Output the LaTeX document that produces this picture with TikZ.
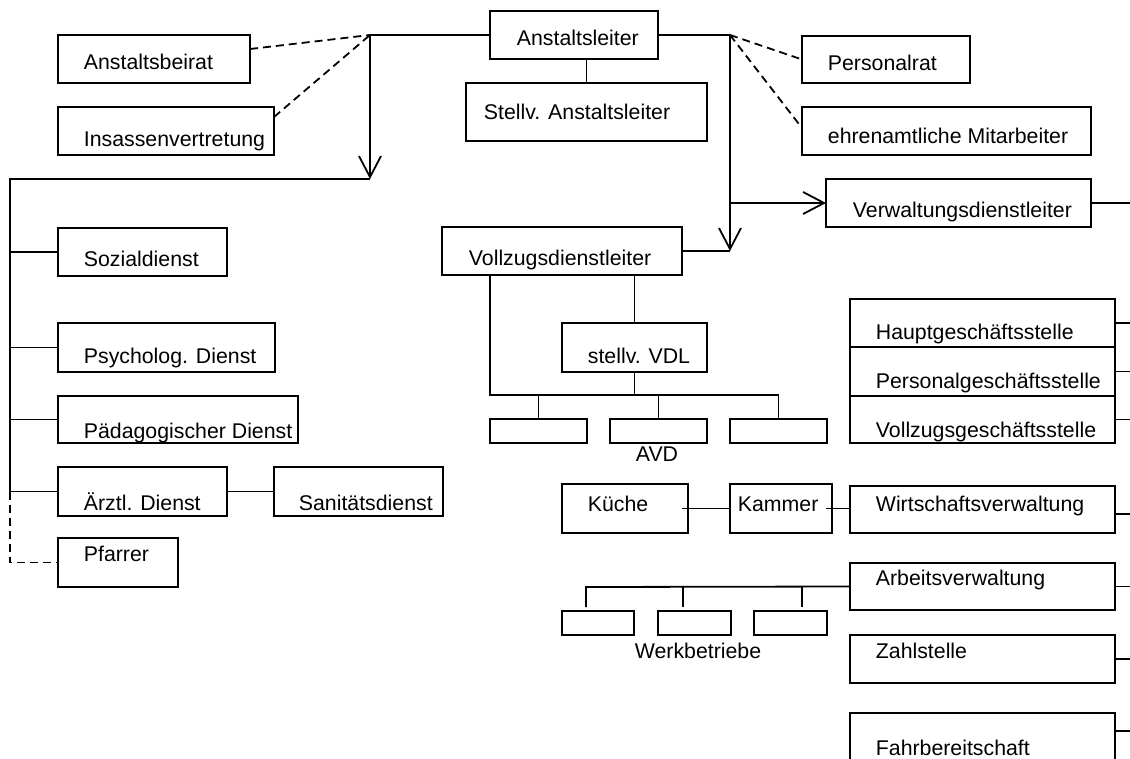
\documentclass[tikz,border=0pt]{standalone}
\usepackage{fontspec}
\setmainfont{Liberation Sans}
\usetikzlibrary{arrows.meta}
\newcommand\mybox[5]{\node[box, minimum width={#4-#2}, minimum height={#5-#3}] (#1) at (#2,#3) {};}
\begin{document}
\begin{tikzpicture}[x=1pt,y=-1pt, line width=1.8pt,
  box/.style={draw, rectangle, inner sep=0pt, outer sep=0pt, anchor=north west},
  txt/.style={anchor=base west, inner sep=0pt, font=\fontsize{21.3}{25}\selectfont},
  ctxt/.style={anchor=base, inner sep=0pt, font=\fontsize{21.3}{25}\selectfont},
  dsh/.style={dash pattern=on 8pt off 5pt},
  arr/.style={-{Straight Barb[length=21pt,width=22pt,line width=1.8pt]}}]
\useasboundingbox (0,0) rectangle (1130,758);
\clip (0,0) rectangle (1130,758);
% boxes
\mybox{beirat}{58}{35}{250}{83}
\mybox{insassen}{58}{107}{274}{155}
\mybox{leiter}{490}{11}{658}{59}
\mybox{stellv}{466}{83}{707}{141}
\mybox{prat}{802}{36}{970}{83}
\mybox{ehren}{802}{107}{1091}{155}
\mybox{vwdl}{826}{179}{1091}{227}
\mybox{sozial}{58}{228}{227}{276}
\mybox{psych}{58}{323}{275}{372}
\mybox{paed}{58}{396}{298}{443}
\mybox{arzt}{58}{467}{227}{516}
\mybox{sani}{274}{467}{443}{516}
\mybox{pfarrer}{58}{538}{178}{587}
\mybox{vdl}{442}{227}{682}{275}
\mybox{svdl}{562}{323}{707}{372}
\mybox{avdA}{490}{419}{587}{443}
\mybox{avdB}{610}{419}{707}{443}
\mybox{avdC}{730}{419}{827}{443}
\mybox{haupt}{850}{299}{1115}{347}
\mybox{pers}{850}{347}{1115}{396}
\mybox{vollz}{850}{396}{1115}{443}
\mybox{wirt}{850}{486}{1115}{533}
\mybox{arb}{850}{563}{1115}{610}
\mybox{zahl}{850}{635}{1115}{683}
\mybox{fahr}{850}{713}{1115}{780}
\mybox{kueche}{562}{484}{688}{533}
\mybox{kammer}{730}{484}{832}{533}
\mybox{wbA}{562}{611}{634}{635}
\mybox{wbB}{658}{611}{731}{635}
\mybox{wbC}{754}{611}{827}{635}
% texts
\node[txt] (tbeirat) at (83,69) {Anstaltsbeirat};
\node[txt] (tinsassen) at (83,146) {Insassenvertretung};
\node[txt] (tleiter) at (516,45) {Anstaltsleiter};
\node[txt] (tstellv) at (483,119) {Stellv. Anstaltsleiter};
\node[txt] (tprat) at (827,70) {Personalrat};
\node[txt] (tehren) at (827,143) {ehrenamtliche Mitarbeiter};
\node[txt] (tvwdl) at (852,217) {Verwaltungsdienstleiter};
\node[txt] (tsozial) at (83,266) {Sozialdienst};
\node[txt] (tpsych) at (83,363) {Psycholog. Dienst};
\node[txt] (tpaed) at (83,438) {Pädagogischer Dienst};
\node[txt] (tarzt) at (83,510) {Ärztl. Dienst};
\node[txt] (tsani) at (298,510) {Sanitätsdienst};
\node[txt] (tpfarrer) at (83,561) {Pfarrer};
\node[txt] (tvdl) at (468,265) {Vollzugsdienstleiter};
\node[txt] (tsvdl) at (587,363) {stellv. VDL};
\node[ctxt] (tavd) at (657,461) {AVD};
\node[txt] (thaupt) at (875,339) {Hauptgeschäftsstelle};
\node[txt] (tpers) at (875,388) {Personalgeschäftsstelle};
\node[txt] (tvollz) at (875,437) {Vollzugsgeschäftsstelle};
\node[txt] (twirt) at (875,511) {Wirtschaftsverwaltung};
\node[txt] (tarb) at (875,585) {Arbeitsverwaltung};
\node[txt] (tzahl) at (875,658) {Zahlstelle};
\node[txt] (tfahr) at (875,755) {Fahrbereitschaft};
\node[txt] (tkueche) at (587,511) {Küche};
\node[txt] (tkammer) at (737,511) {Kammer};
\node[ctxt] (twb) at (698,658) {Werkbetriebe};
% junction coordinates
\coordinate (jL) at (370,35);
\coordinate (jR) at (730,35);
\coordinate (cL) at (370,179);
\coordinate (vj) at (730,203);
\coordinate (L0) at (10,179);
\coordinate (Lb) at (10,562.5);
\coordinate (edge) at (1130,0);
\coordinate (bA) at (490,395);
\coordinate (wA) at (586,587);
\coordinate (wB) at (683,587);
\coordinate (wC) at (802,587);
% top connectors
\draw (jL) -- (leiter.west);
\draw (leiter.east) -- (jR);
\draw (stellv.north |- leiter.south) -- (stellv.north);
\draw[dsh] ([yshift=10pt]beirat.east) -- (jL);
\draw[dsh] ([yshift=14pt]insassen.east) -- (jL);
\draw[dsh] (jR) -- (prat.west);
\draw[dsh] (jR) -- ([yshift=3pt]ehren.west);
\draw[arr] (jL) -- (cL);
\draw (cL) -- (L0) -- (arzt.west -| L0);
\draw[dsh] (arzt.west -| L0) -- (Lb) -- (pfarrer.west);
\draw (sozial.west -| L0) -- (sozial.west);
\draw (psych.west -| L0) -- (psych.west);
\draw (paed.west -| L0) -- (paed.west);
\draw (arzt.west -| L0) -- (arzt.west);
\draw (arzt.east) -- (sani.west);
\draw[arr] (jR) -- (vdl.east -| jR);
\draw (vdl.east -| jR) -- (vdl.east);
\draw[arr] (vj) -- (vwdl.west);
% VDL tree
\draw (bA |- vdl.south) -- (bA) -- (avdC.north |- bA) -- (avdC.north);
\draw (svdl.north |- vdl.south) -- (svdl.north);
\draw (svdl.south) -- (svdl.south |- bA);
\draw (avdA.north |- bA) -- (avdA.north);
\draw (avdB.north |- bA) -- (avdB.north);
% Kueche / Kammer
\draw ([xshift=-6pt]kueche.east) -- (kammer.west);
\draw ([xshift=-6pt]kammer.east) -- (wirt.west |- kammer.east);
% Werkbetriebe
\draw (arb.west) -- (wA) -- +(0,20);
\draw (wB) -- +(0,20);
\draw (wC) -- +(0,20);
% right stubs
\draw (vwdl.east) -- (vwdl.east -| edge);
\draw (haupt.east) -- (haupt.east -| edge);
\draw (pers.east) -- (pers.east -| edge);
\draw (vollz.east) -- (vollz.east -| edge);
\draw ([yshift=-4.5pt]wirt.east) -- ([yshift=-4.5pt]wirt.east -| edge);
\draw (arb.east) -- (arb.east -| edge);
\draw (zahl.east) -- (zahl.east -| edge);
\draw ([yshift=-18pt]fahr.north east) -- ([yshift=-18pt]fahr.north east -| edge);
\end{tikzpicture}
\end{document}
